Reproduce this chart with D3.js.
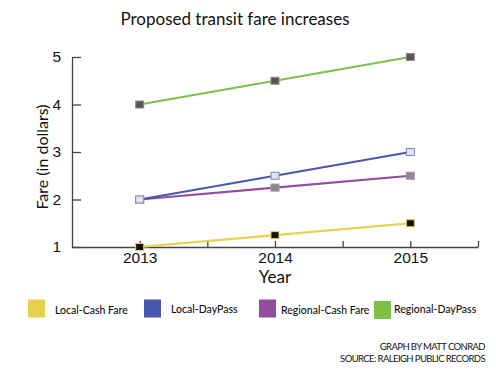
<!DOCTYPE html>
<head>
	<meta charset="utf-8">
	<title>Proposed transit fare increases</title>
	<script src="https://d3js.org/d3.v7.min.js"></script>
	<style>
	body { margin:0; background:#fff; }
	svg { font-family: Lato, "Noto Sans", sans-serif; }
	.axis path, .axis line { stroke:#444; stroke-width:1.3px; }
	.axis text { font-size:15.5px; fill:#111; }
	.line { fill:none; stroke-width:2.2px; }
	</style>
</head>
<body>
<div class="chartContainer"></div>
<script>
// values
var years = [2013, 2014, 2015];
var localCash = [1, 1.25, 1.5];
var localDayPass = [2, 2.5, 3];
var regionalCash = [2, 2.25, 2.5];
var regionalDayPass = [4, 4.5, 5];
var yTicks = [1, 2, 3, 4, 5];
var xTicks = [2013, 2013.5, 2014, 2014.5, 2015, 2015.5];

var seriesNames = ["Local-Cash Fare", "Local-DayPass", "Regional-Cash Fare", "Regional-DayPass"];
var seriesValues = [localCash, localDayPass, regionalCash, regionalDayPass];
var colors = ["#e8d04f", "#4759ad", "#944c9e", "#7cc24a"];
var markerFill = ["#111", "#e4e4e8", "#8a8a8a", "#555"];
var markerStroke = ["#e8d04f", "#7a86c4", "#a98ab5", "#8a8a8a"];
// draw order so the blue marker sits on top at 2013
var drawOrder = [0, 2, 1, 3];

var totalWidth = 496, totalHeight = 389;
var margin = {top: 57, right: 18, bottom: 142, left: 72};
var width = totalWidth - margin.left - margin.right,
	height = totalHeight - margin.top - margin.bottom;

var svg = d3.select(".chartContainer").append("svg")
	.attr("width", totalWidth)
	.attr("height", totalHeight);

var g = svg.append("g")
	.attr("transform", "translate(" + margin.left + "," + margin.top + ")");

var x = d3.scaleLinear().domain([2012.5, 2015.5]).range([0, width]);
var y = d3.scaleLinear().domain([1, 5]).range([height, 0]);

var xAxis = d3.axisBottom(x)
	.tickValues(xTicks)
	.tickSizeInner(-6)
	.tickSizeOuter(0)
	.tickPadding(5)
	.tickFormat(function(d) { return d % 1 === 0 ? d : ""; });
var yAxis = d3.axisLeft(y)
	.tickValues(yTicks)
	.tickSizeInner(-9)
	.tickSizeOuter(0)
	.tickPadding(11)
	.tickFormat(d3.format("d"));

g.append("g")
	.attr("class", "axis y-axis")
	.call(yAxis);
g.append("g")
	.attr("class", "axis x-axis")
	.attr("transform", "translate(0," + height + ")")
	.call(xAxis);
g.selectAll(".axis .domain").attr("stroke", "#444");

var line = d3.line()
	.x(function(d, i) { return x(years[i]); })
	.y(function(d) { return y(d); });

drawOrder.forEach(function(s) {
	g.append("path")
		.attr("class", "line")
		.attr("stroke", colors[s])
		.attr("d", line(seriesValues[s]));
});
drawOrder.forEach(function(s) {
	g.selectAll(".marker" + s)
		.data(seriesValues[s])
		.enter()
		.append("rect")
		.attr("class", "marker" + s)
		.attr("x", function(d, i) { return x(years[i]) - 4; })
		.attr("y", function(d) { return y(d) - 3.5; })
		.attr("width", 8)
		.attr("height", 7)
		.attr("fill", markerFill[s])
		.attr("stroke", markerStroke[s])
		.attr("stroke-width", 1);
});

// titles
svg.append("text")
	.attr("x", 235).attr("y", 25)
	.attr("text-anchor", "middle")
	.attr("font-size", 17)
	.attr("fill", "#111")
	.text("Proposed transit fare increases");

svg.append("text")
	.attr("transform", "translate(48,157) rotate(-90)")
	.attr("text-anchor", "middle")
	.attr("font-size", 16)
	.attr("fill", "#111")
	.text("Fare (in dollars)");

svg.append("text")
	.attr("x", 275).attr("y", 283)
	.attr("text-anchor", "middle")
	.attr("font-size", 17)
	.attr("fill", "#111")
	.text("Year");

// legend
var legendX = [28, 144, 259, 374];
var legendLabelX = [55, 171, 281, 394];
var legend = svg.append("g");
seriesNames.forEach(function(name, i) {
	legend.append("rect")
		.attr("x", legendX[i]).attr("y", i === 3 ? 301 : 299.5)
		.attr("width", 17).attr("height", 18)
		.attr("fill", colors[i]);
	legend.append("text")
		.attr("x", legendLabelX[i]).attr("y", i % 2 ? 313 : 314)
		.attr("font-size", 10.5)
		.attr("font-weight", 500)
		.attr("fill", "#111")
		.text(name);
});

// credits
var credits = ["GRAPH BY MATT CONRAD", "SOURCE: RALEIGH PUBLIC RECORDS"];
credits.forEach(function(c, i) {
	svg.append("text")
		.attr("x", 485).attr("y", 350 + i * 12)
		.attr("text-anchor", "end")
		.attr("font-size", 9.5)
		.attr("letter-spacing", -0.6)
		.attr("fill", "#111")
		.text(c);
});
</script>
</body>
</html>
